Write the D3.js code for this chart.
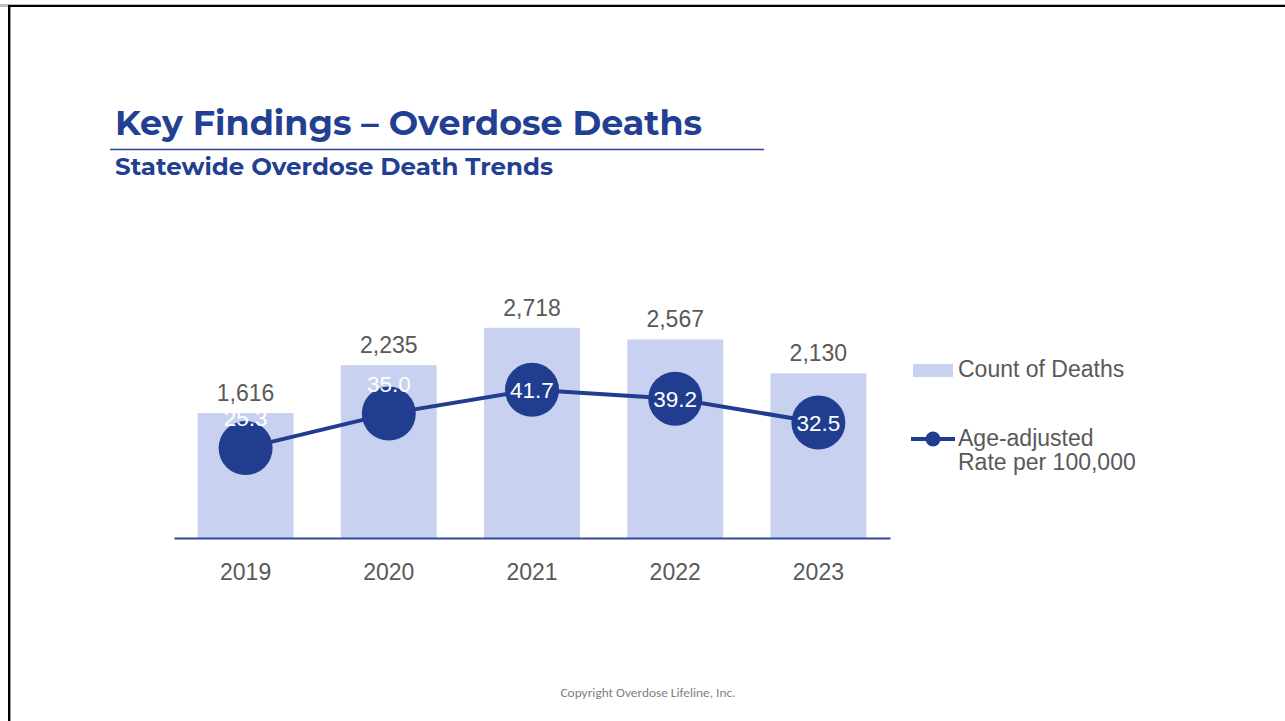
<!DOCTYPE html>
<html>
<head>
<meta charset="utf-8">
<script src="https://cdn.jsdelivr.net/npm/d3@7"></script>
<style>
  html, body { margin: 0; padding: 0; background: #ffffff; }
  svg { display: block; }
</style>
</head>
<body>
<svg id="chart" width="1285" height="721"></svg>
<script>
// Statewide overdose deaths: annual count (bars) and age-adjusted rate (line)
const years = ["2019", "2020", "2021", "2022", "2023"];
const deathCounts = [1616, 2235, 2718, 2567, 2130];
const ratePer100k = [25.3, 35.0, 41.7, 39.2, 32.5];
// where each rate label sits relative to its marker
const rateLabelPlacement = ["above", "above", "center", "center", "center"];

const legendLabels = ["Count of Deaths", ["Age-adjusted", "Rate per 100,000"]];

const barColor = "#c8d2f0";
const lineColor = "#213d8f";
const textGrey = "#595959";
const titleBlue = "#233f93";

const svg = d3.select("#chart");

// slide frame (top and left edges)
svg.append("rect").attr("x", 0).attr("y", 4).attr("width", 1285).attr("height", 3).attr("fill", "#bdbdbd");
svg.append("rect").attr("x", 8).attr("y", 5).attr("width", 1277).attr("height", 2).attr("fill", "#000");
svg.append("rect").attr("x", 8).attr("y", 5).attr("width", 2).attr("height", 716).attr("fill", "#000");
svg.append("rect").attr("x", 10).attr("y", 7).attr("width", 1).attr("height", 714).attr("fill", "#9a9a9a");

// heading
svg.append("text")
  .attr("x", 115).attr("y", 135)
  .attr("font-family", "Montserrat, 'Open Sans', sans-serif")
  .attr("font-weight", 700).attr("font-size", 35)
  .attr("fill", titleBlue)
  .attr("textLength", 587).attr("lengthAdjust", "spacingAndGlyphs")
  .text("Key Findings – Overdose Deaths");

svg.append("line")
  .attr("x1", 110).attr("x2", 764).attr("y1", 149.5).attr("y2", 149.5)
  .attr("stroke", "#2e4488").attr("stroke-width", 1.5);

svg.append("text")
  .attr("x", 115).attr("y", 175)
  .attr("font-family", "Montserrat, 'Open Sans', sans-serif")
  .attr("font-weight", 700).attr("font-size", 23.5)
  .attr("fill", titleBlue)
  .attr("textLength", 438).attr("lengthAdjust", "spacingAndGlyphs")
  .text("Statewide Overdose Death Trends");

// scales
const x = d3.scaleBand().domain(years).range([174, 890]).paddingInner(0.33).paddingOuter(0.165);
const yCount = d3.scaleLinear().domain([0, 3000]).range([538, 306]);
const yRate = d3.scaleLinear().domain([0, 65]).range([538, 307]);

const font = "'Liberation Sans', Arial, sans-serif";
const labelSize = 23;

// bars
svg.append("g").selectAll("rect")
  .data(years)
  .join("rect")
  .attr("x", d => x(d))
  .attr("width", x.bandwidth())
  .attr("y", (d, i) => yCount(deathCounts[i]))
  .attr("height", (d, i) => yCount(0) - yCount(deathCounts[i]))
  .attr("fill", barColor);

// count labels
svg.append("g").selectAll("text")
  .data(years)
  .join("text")
  .attr("x", d => x(d) + x.bandwidth() / 2)
  .attr("y", (d, i) => yCount(deathCounts[i]) - 12)
  .attr("text-anchor", "middle")
  .attr("font-family", font).attr("font-size", labelSize)
  .attr("fill", textGrey)
  .text((d, i) => d3.format(",")(deathCounts[i]));

// category axis
const xAxis = svg.append("g")
  .attr("transform", "translate(0,538)")
  .call(d3.axisBottom(x).tickSize(0).tickPadding(26).tickSizeOuter(0));
xAxis.select(".domain").attr("stroke", "#2f4a98").attr("stroke-width", 2);
xAxis.selectAll(".tick text")
  .attr("font-family", font).attr("font-size", labelSize)
  .attr("fill", textGrey);

// rate line
const cx = (d, i) => x(years[i]) + x.bandwidth() / 2;
const line = d3.line().x((d, i) => cx(d, i)).y(d => yRate(d));
svg.append("path")
  .datum(ratePer100k)
  .attr("d", line)
  .attr("fill", "none")
  .attr("stroke", lineColor)
  .attr("stroke-width", 4);

svg.append("g").selectAll("circle")
  .data(ratePer100k)
  .join("circle")
  .attr("cx", cx)
  .attr("cy", d => yRate(d))
  .attr("r", 27)
  .attr("fill", lineColor);

svg.append("g").selectAll("text")
  .data(ratePer100k)
  .join("text")
  .attr("x", cx)
  .attr("y", (d, i) => yRate(d) + (rateLabelPlacement[i] === "above" ? -22 : 8))
  .attr("text-anchor", "middle")
  .attr("font-family", font).attr("font-size", 22.5)
  .attr("fill", "#ffffff")
  .text(d => d3.format(".1f")(d));

// legend
const legend = svg.append("g");
legend.append("rect")
  .attr("x", 913).attr("y", 364).attr("width", 40).attr("height", 13)
  .attr("fill", barColor);
legend.append("text")
  .attr("x", 958).attr("y", 377)
  .attr("font-family", font).attr("font-size", labelSize)
  .attr("fill", textGrey)
  .text(legendLabels[0]);

legend.append("line")
  .attr("x1", 911).attr("x2", 955).attr("y1", 439).attr("y2", 439)
  .attr("stroke", lineColor).attr("stroke-width", 4);
legend.append("circle")
  .attr("cx", 933).attr("cy", 439).attr("r", 7.5)
  .attr("fill", lineColor);
legend.append("text")
  .attr("font-family", font).attr("font-size", labelSize)
  .attr("fill", textGrey)
  .selectAll("tspan")
  .data(legendLabels[1])
  .join("tspan")
  .attr("x", 958)
  .attr("y", (d, i) => 446 + i * 24)
  .text(d => d);

// footer
svg.append("text")
  .attr("x", 648).attr("y", 697)
  .attr("text-anchor", "middle")
  .attr("font-family", "Carlito, 'Open Sans', sans-serif")
  .attr("font-size", 13)
  .attr("fill", "#7f7f7f")
  .attr("textLength", 175).attr("lengthAdjust", "spacingAndGlyphs")
  .text("Copyright Overdose Lifeline, Inc.");
</script>
</body>
</html>
